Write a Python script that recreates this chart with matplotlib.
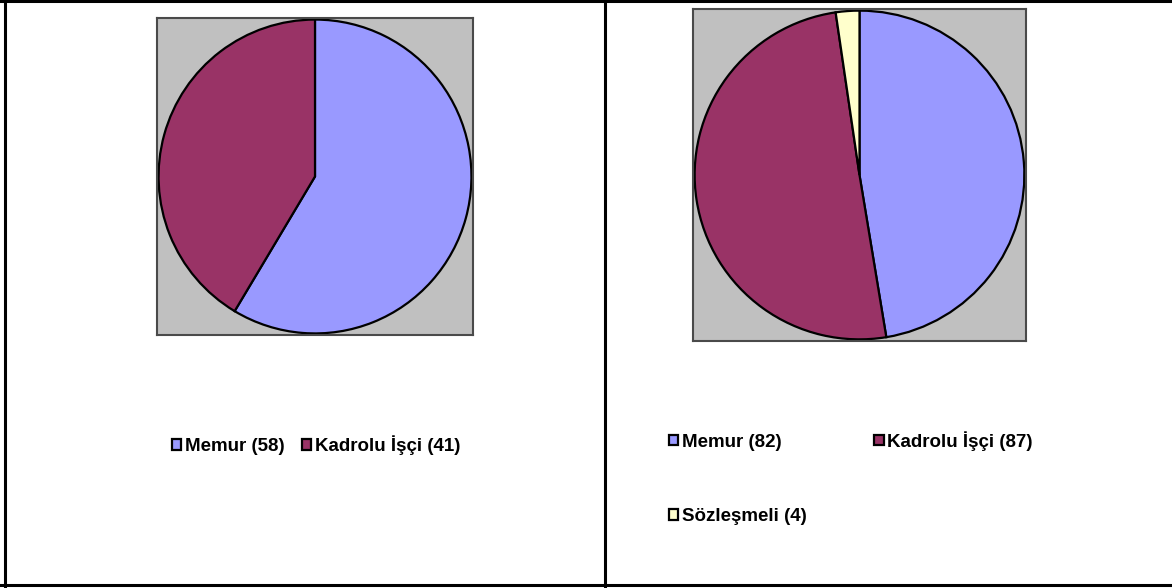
import matplotlib.pyplot as plt
from matplotlib.lines import Line2D

# ============================
# DATA
# ============================
left_labels = ["Memur (58)", "Kadrolu İşçi (41)"]
left_values = [58, 41]

right_labels = ["Memur (82)", "Kadrolu İşçi (87)", "Sözleşmeli (4)"]
right_values = [82, 87, 4]

colors = ["#9999FF", "#993366", "#FFFFCC"]

# ============================
# FIGURE
# ============================
W, H = 1172, 588
fig = plt.figure(figsize=(W / 100, H / 100), dpi=100)
plt.rcParams["font.family"] = ["Liberation Sans", "DejaVu Sans"]


def px_axes(x0, y0, x1, y1):
    # pixel box (top-left origin) -> figure axes
    return fig.add_axes([x0 / W, 1 - y1 / H, (x1 - x0) / W, (y1 - y0) / H])


def draw_pie(ax, values, cols):
    wedges, _ = ax.pie(values, colors=cols, startangle=90, counterclock=False,
                       radius=1.0, center=(0, 0),
                       wedgeprops=dict(edgecolor="black", linewidth=1.6))
    ax.set_xlim(-1.01, 1.01)
    ax.set_ylim(-1.01, 1.01)
    ax.set_aspect("auto")
    ax.set_facecolor("#C0C0C0")
    ax.set_frame_on(True)
    for s in ax.spines.values():
        s.set_visible(True)
        s.set_color("#4a4a4a")
        s.set_linewidth(1.5)
    ax.set_xticks([])
    ax.set_yticks([])
    return wedges


ax1 = px_axes(157, 18, 473, 335)
w1 = draw_pie(ax1, left_values, colors[:2])

ax2 = px_axes(693, 9, 1026, 341)
w2 = draw_pie(ax2, right_values, colors)

leg_kw = dict(frameon=False, handlelength=0.5, handleheight=0.5,
              handletextpad=0.2,
              prop=dict(family=["Liberation Sans", "DejaVu Sans"], weight="bold", size=13.5))

fig.legend(w1, left_labels, loc="center", bbox_to_anchor=(316 / W, 1 - 445 / H),
           ncol=2, columnspacing=0.9, **leg_kw)

# legend fills column-first, so reorder to read row by row
order = [0, 2, 1]
fig.legend([w2[i] for i in order], [right_labels[i] for i in order],
           loc="upper left", bbox_to_anchor=(652 / W, 1 - 414 / H),
           ncol=2, columnspacing=3.6, labelspacing=3.05, **leg_kw)

# ============================
# TABLE BORDERS
# ============================
lw = 2.2
for (xs, ys) in [((0, W), (1, 1)), ((0, W), (585, 585)),
                 ((5, 5), (0, 586)), ((605, 605), (0, 586))]:
    fig.add_artist(Line2D([x / W for x in xs], [1 - y / H for y in ys],
                          color="black", linewidth=lw, transform=fig.transFigure))

fig.savefig("out.png", dpi=100)
